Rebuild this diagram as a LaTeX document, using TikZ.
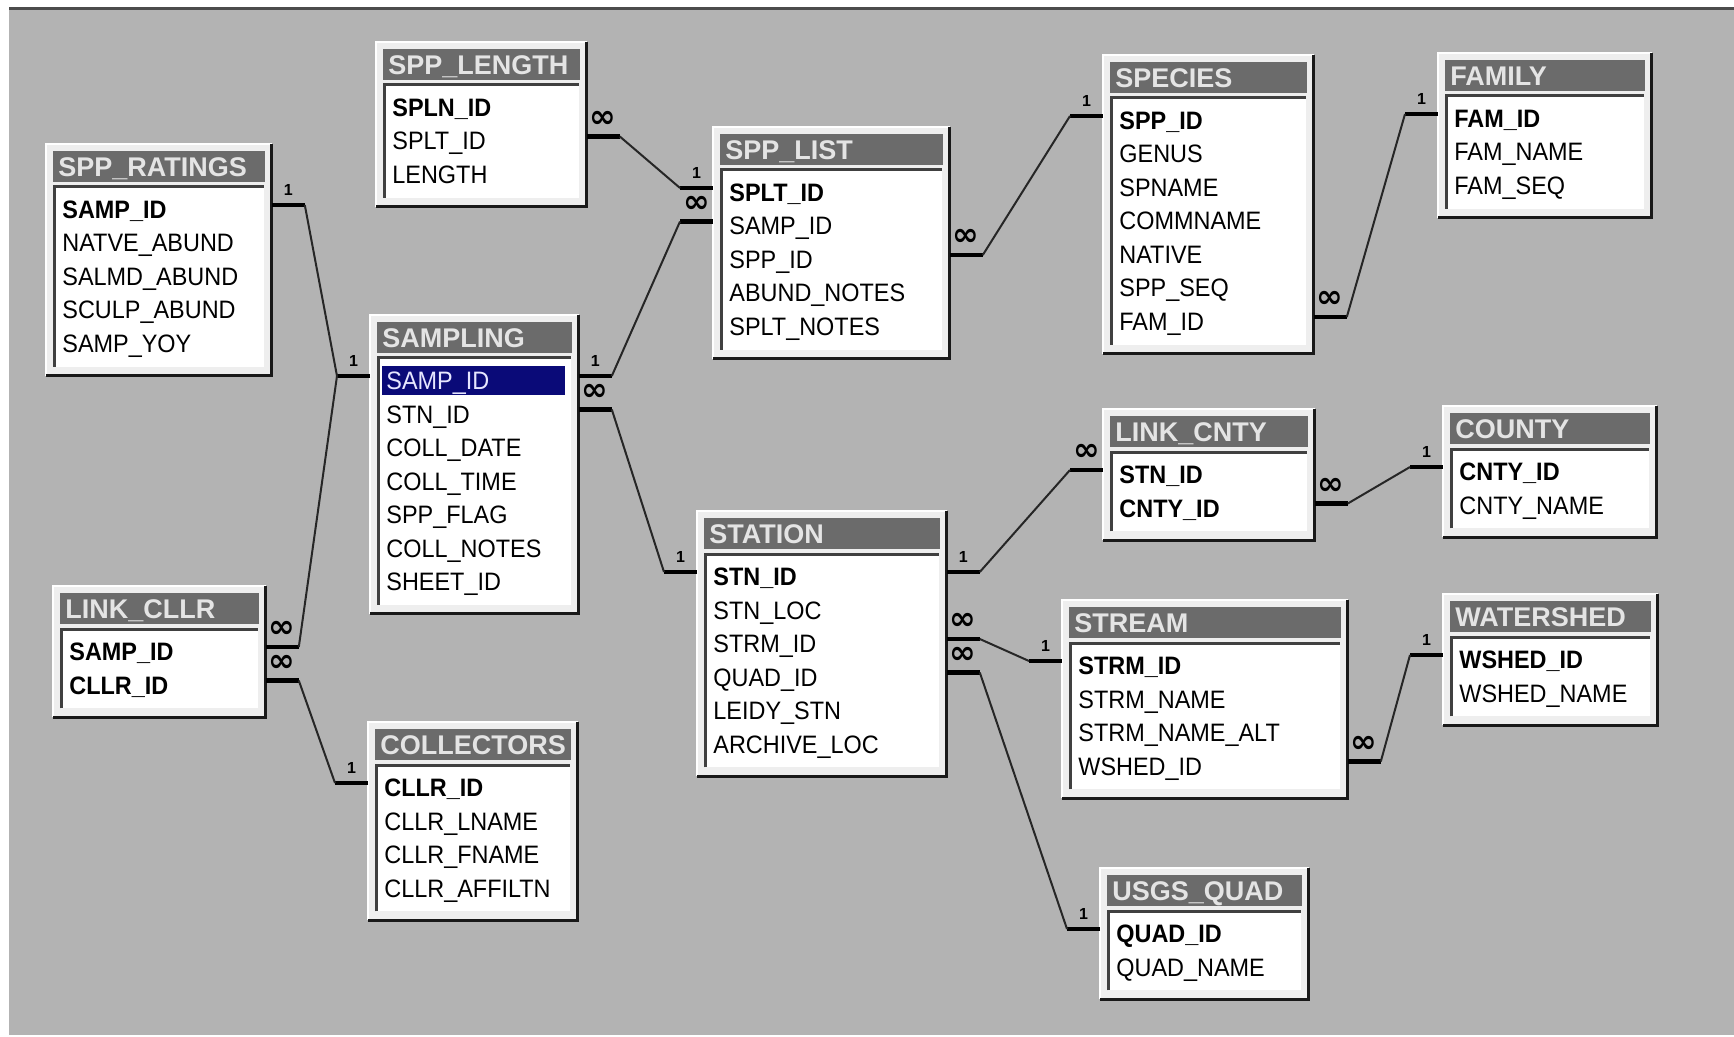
\documentclass[tikz,border=0pt]{standalone}
\usepackage{fontspec}
\setmainfont{Liberation Sans}
\newfontfamily\fieldfont[FakeStretch=0.93]{Liberation Sans}
\newfontfamily\cardfont{DejaVu Sans}
\usepackage{tikz}
\usetikzlibrary{calc}
\definecolor{canvasgray}{HTML}{B3B3B3}
\definecolor{titlegray}{HTML}{6B6B6B}
\definecolor{titletext}{HTML}{E4E4E4}
\definecolor{framelight}{HTML}{EEEEEE}
\definecolor{selnavy}{HTML}{0A0A78}
\definecolor{seltext}{HTML}{E6E6FF}

% one table of the relationships window
\newcommand{\dbtable}[7]{%
  \pgfmathsetmacro\tblw{#4*0.5}%
  \pgfmathsetmacro\tblh{(97+(#5-1)*33.5)*0.5}%
  \pgfmathsetmacro\barw{(#4-13)*0.5-5}%
  \pgfmathsetmacro\fldw{(#4-25)*0.5-4}%
  \node (#1) [tblframe, minimum width=\tblw pt, minimum height=\tblh pt] at (#2,#3) {};
  \draw[framehi] (#1.south west) |- (#1.north east);
  \draw[framelo] (#1.south west) -| (#1.north east);
  \node (#1-title) [titlebar, text width=\barw pt] at ($(#1.north west)+(7,7)$) {#6};
  \fill[white] ($(#1.north west)+(7,42)$) rectangle ($(#1.south east)+(-8,-9)$);
  \draw[listedge] ($(#1.south west)+(8,-9)$) |- ($(#1.north east)+(-8,43)$);
  \foreach \fst/\ftx [count=\k] in {#7}
    \node (#1-\k) [\fst, text width=\fldw pt]
      at ($(#1.north west)+(12,{65.5+(\k-1)*33.5})$) {\ftx};
}
\newcommand{\outstub}[4]{%
  \draw[stubline] ($(#1-#2 -| #1.east)+(0,-4.5)$) -- ++(33,0) coordinate (#4)
    node[card,midway] {#3};}
\newcommand{\instub}[4]{%
  \draw[stubline] ($(#1-#2 -| #1.west)+(0,-4.5)$) -- ++(-33,0) coordinate (#4)
    node[card,midway] {#3};}
\newcommand{\many}{{\cardfont\bfseries\fontsize{16}{16}\selectfont ∞}}

\begin{document}
\begin{tikzpicture}[x=0.5pt,y=-0.5pt,
  tblframe/.style={anchor=north west,fill=framelight,inner sep=0pt},
  framehi/.style={white,line width=1pt},
  framelo/.style={black!90,line width=1.5pt},
  titlebar/.style={anchor=north west,fill=titlegray,text=titletext,
    font=\bfseries\fontsize{13.5}{15}\selectfont,inner xsep=2.5pt,inner ysep=0pt,
    minimum height=15.5pt,text height=9.7pt,text depth=0pt,align=left},
  listedge/.style={black!75,line width=1.5pt},
  fld/.style={anchor=west,font=\fieldfont\fontsize{12.6}{14}\selectfont,
    inner xsep=2pt,inner ysep=2.75pt,text height=9pt,text depth=0pt,align=left},
  key/.style={fld,font=\fieldfont\bfseries\fontsize{12.6}{14}\selectfont},
  sel/.style={fld,fill=selnavy,text=seltext},
  stubline/.style={black,line width=2.2pt},
  link/.style={black!85,line width=1pt},
  card/.style={font=\bfseries\fontsize{8}{8}\selectfont,inner sep=0pt,above=3.5pt}]
  \useasboundingbox (0,0) rectangle (1734,1037);
  \fill[white] (0,0) rectangle (1734,1037);
  \fill[canvasgray] (9,9) rectangle (1734,1035);
  \draw[black!70,line width=1.5pt] (9,9) -- (1734,9);

  \dbtable{splen}{376}{42}{210}{3}{SPP\_LENGTH}{key/SPLN\_ID, fld/SPLT\_ID, fld/LENGTH}
  \dbtable{sprat}{46}{144}{225}{5}{SPP\_RATINGS}{key/SAMP\_ID, fld/NATVE\_ABUND,
    fld/SALMD\_ABUND, fld/SCULP\_ABUND, fld/SAMP\_YOY}
  \dbtable{samp}{370}{315}{208}{7}{SAMPLING}{sel/SAMP\_ID, fld/STN\_ID, fld/COLL\_DATE,
    fld/COLL\_TIME, fld/SPP\_FLAG, fld/COLL\_NOTES, fld/SHEET\_ID}
  \dbtable{lcllr}{53}{586}{212}{2}{LINK\_CLLR}{key/SAMP\_ID, key/CLLR\_ID}
  \dbtable{cllr}{368}{722}{209}{4}{COLLECTORS}{key/CLLR\_ID, fld/CLLR\_LNAME,
    fld/CLLR\_FNAME, fld/CLLR\_AFFILTN}
  \dbtable{splist}{713}{127}{236}{5}{SPP\_LIST}{key/SPLT\_ID, fld/SAMP\_ID, fld/SPP\_ID,
    fld/ABUND\_NOTES, fld/SPLT\_NOTES}
  \dbtable{stn}{697}{511}{249}{6}{STATION}{key/STN\_ID, fld/STN\_LOC, fld/STRM\_ID,
    fld/QUAD\_ID, fld/LEIDY\_STN, fld/ARCHIVE\_LOC}
  \dbtable{spec}{1103}{55}{210}{7}{SPECIES}{key/SPP\_ID, fld/GENUS, fld/SPNAME,
    fld/COMMNAME, fld/NATIVE, fld/SPP\_SEQ, fld/FAM\_ID}
  \dbtable{fam}{1438}{53}{213}{3}{FAMILY}{key/FAM\_ID, fld/FAM\_NAME, fld/FAM\_SEQ}
  \dbtable{lcnty}{1103}{409}{211}{2}{LINK\_CNTY}{key/STN\_ID, key/CNTY\_ID}
  \dbtable{cnty}{1443}{406}{213}{2}{COUNTY}{key/CNTY\_ID, fld/CNTY\_NAME}
  \dbtable{strm}{1062}{600}{285}{4}{STREAM}{key/STRM\_ID, fld/STRM\_NAME,
    fld/STRM\_NAME\_ALT, fld/WSHED\_ID}
  \dbtable{wshed}{1443}{594}{214}{2}{WATERSHED}{key/WSHED\_ID, fld/WSHED\_NAME}
  \dbtable{quad}{1100}{868}{208}{2}{USGS\_QUAD}{key/QUAD\_ID, fld/QUAD\_NAME}

  % relationships
  \outstub{sprat}{1}{1}{r1a} \instub{samp}{1}{1}{r1b}
  \draw[link] (r1a) -- (r1b);
  \outstub{lcllr}{1}{\many}{r2a}
  \draw[link] (r2a) -- (r1b);
  \outstub{lcllr}{2}{\many}{r3a} \instub{cllr}{1}{1}{r3b}
  \draw[link] (r3a) -- (r3b);
  \outstub{splen}{2}{\many}{r4a} \instub{splist}{1}{1}{r4b}
  \draw[link] (r4a) -- (r4b);
  \outstub{samp}{1}{1}{r5a} \instub{splist}{2}{\many}{r5b}
  \draw[link] (r5a) -- (r5b);
  \outstub{samp}{2}{\many}{r6a} \instub{stn}{1}{1}{r6b}
  \draw[link] (r6a) -- (r6b);
  \outstub{splist}{3}{\many}{r7a} \instub{spec}{1}{1}{r7b}
  \draw[link] (r7a) -- (r7b);
  \outstub{spec}{7}{\many}{r8a} \instub{fam}{1}{1}{r8b}
  \draw[link] (r8a) -- (r8b);
  \outstub{stn}{1}{1}{r9a} \instub{lcnty}{1}{\many}{r9b}
  \draw[link] (r9a) -- (r9b);
  \outstub{lcnty}{2}{\many}{r10a} \instub{cnty}{1}{1}{r10b}
  \draw[link] (r10a) -- (r10b);
  \outstub{stn}{3}{\many}{r11a} \instub{strm}{1}{1}{r11b}
  \draw[link] (r11a) -- (r11b);
  \outstub{stn}{4}{\many}{r12a} \instub{quad}{1}{1}{r12b}
  \draw[link] (r12a) -- (r12b);
  \outstub{strm}{4}{\many}{r13a} \instub{wshed}{1}{1}{r13b}
  \draw[link] (r13a) -- (r13b);
\end{tikzpicture}
\end{document}
